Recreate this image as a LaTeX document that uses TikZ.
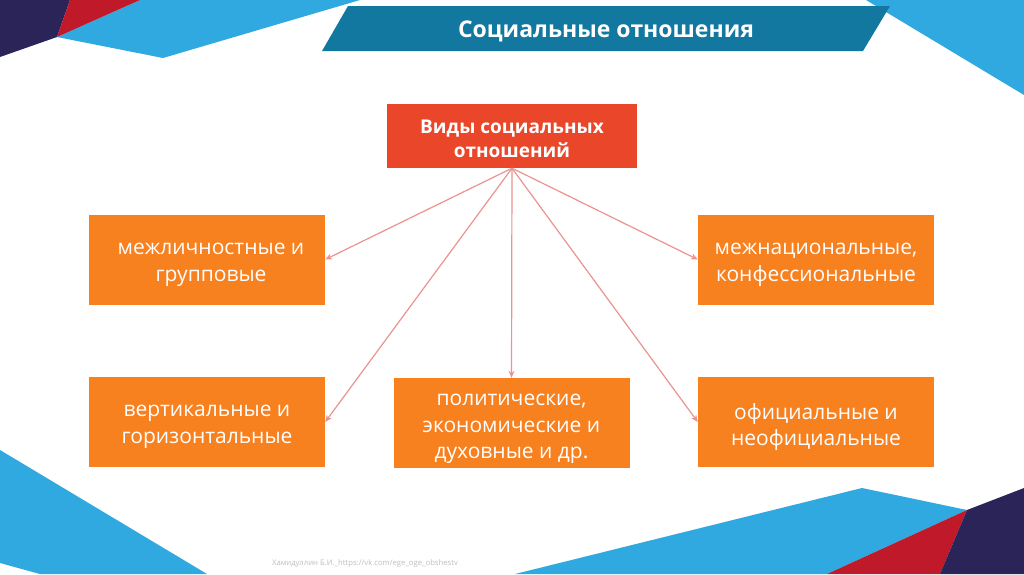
\documentclass[tikz,border=0pt]{standalone}
\usepackage{fontspec}
\setmainfont{Open Sans}
\usetikzlibrary{arrows.meta}
\definecolor{navy}{HTML}{2A2459}
\definecolor{redd}{HTML}{C0192A}
\definecolor{lblue}{HTML}{30A8E0}
\definecolor{banner}{HTML}{13789F}
\definecolor{mainred}{HTML}{EA4629}
\definecolor{boxorange}{HTML}{F7801F}
\definecolor{arrowpink}{HTML}{E9948E}
\tikzset{
  obox/.style={fill=boxorange, draw=none, minimum width=236pt, minimum height=90pt, inner sep=0pt},
  otext/.style={text=white, align=center, font=\fontsize{21}{26.5}\selectfont, inner sep=0pt},
  conn/.style={draw=arrowpink, line width=1.2pt, -{Stealth[length=7pt,width=6pt]}}
}
\begin{document}
\begin{tikzpicture}[x=1pt,y=-1pt]
\useasboundingbox (0,0) rectangle (1024,574);
\fill[white] (0,0) rectangle (1024,574);
% top-left decoration
\fill[lblue] (140,0) -- (360,0) -- (163,58) -- (57,37) -- cycle;
\fill[navy] (0,0) -- (70,0) -- (57,37) -- (0,57) -- cycle;
\fill[redd] (70,0) -- (140,0) -- (57,37) -- cycle;
% top-right
\fill[lblue] (866,0) -- (1024,0) -- (1024,95) -- cycle;
% bottom-left
\fill[lblue] (0,450) -- (207,574) -- (40,574) -- (0,563) -- cycle;
% bottom-right
\fill[lblue] (515,574) -- (862,488) -- (967,510) -- (827,574) -- cycle;
\fill[redd] (967,510) -- (940,574) -- (827,574) -- cycle;
\fill[navy] (967,510) -- (1024,488) -- (1024,574) -- (940,574) -- cycle;
% title banner
\fill[banner] (348,6) -- (890,6) -- (863,51) -- (322,51) -- cycle;
\node[text=white, font=\fontsize{23}{26}\selectfont\bfseries] (title) at (606,31) {Социальные отношения};
% main node
\node[fill=mainred, minimum width=250pt, minimum height=64pt, inner sep=0pt] (main) at (512,136) {};
\node[text=white, align=center, font=\fontsize{19}{24}\selectfont\bfseries, inner sep=0pt] (maint) at (512,139) {Виды социальных\\отношений};
% boxes
\node[obox] (lt) at (207,259.5) {};
\node[obox] (rt) at (816,259.5) {};
\node[obox] (lb) at (207,422) {};
\node[obox] (cb) at (511.5,423) {};
\node[obox] (rb) at (816,422) {};
\node[otext] (ltt) at (211,265) {межличностные и\\групповые};
\node[otext] (rtt) at (816,265) {межнациональные,\\конфессиональные};
\node[otext] (lbt) at (207,427) {вертикальные и\\горизонтальные};
\node[otext] (cbt) at (511.5,429) {политические,\\экономические и\\духовные и др.};
\node[otext] (rbt) at (816,427) {официальные и\\неофициальные};
% connectors
\coordinate (src) at (main.south);
\draw[conn] (src) -- (lt.east);
\draw[conn] (src) -- (lb.east);
\draw[conn] (src) -- (cb.north);
\draw[conn] (src) -- (rt.west);
\draw[conn] (src) -- (rb.west);
% footer
\node[text=black!25, font=\fontsize{7.7}{9}\selectfont] (footer) at (365,563) {Хамидуллин Б.И.\_https://vk.com/ege\_oge\_obshestv};
\end{tikzpicture}
\end{document}
